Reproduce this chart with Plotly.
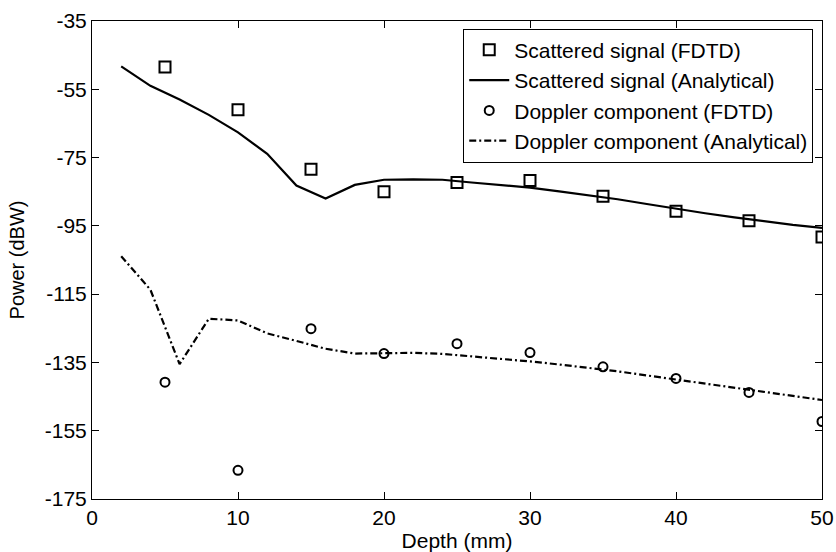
import plotly.graph_objects as go

# FDTD sample depths (mm)
depth_fdtd = [5, 10, 15, 20, 25, 30, 35, 40, 45, 50]
scattered_fdtd = [-48.5, -61.0, -78.4, -85.0, -82.3, -81.7, -86.3, -90.7, -93.5, -98.3]
doppler_fdtd = [-140.8, -166.6, -125.1, -132.4, -129.5, -132.1, -136.3, -139.7, -143.8, -152.3]

# Analytical curve depths (mm)
depth_analytic = [2, 4, 6, 8, 10, 12, 14, 16, 18, 20, 22, 24, 26, 28, 30,
                  32, 34, 36, 38, 40, 42, 44, 46, 48, 50]
scattered_analytic = [-48.3, -54.0, -58.0, -62.5, -67.6, -73.9, -83.2, -87.0, -83.0, -81.5,
                      -81.4, -81.5, -82.3, -83.0, -83.8, -84.9, -86.0, -87.2, -88.6, -90.0,
                      -91.3, -92.5, -93.7, -94.7, -95.6]
doppler_analytic = [-103.9, -113.7, -135.5, -122.2, -122.7, -126.5, -128.7, -131.0, -132.4, -132.2,
                    -132.2, -132.5, -133.2, -133.9, -134.7, -135.6, -136.5, -137.6, -138.8, -140.0,
                    -141.3, -142.6, -143.8, -144.9, -146.0]

x_ticks = [0, 10, 20, 30, 40, 50]
y_ticks = [-35, -55, -75, -95, -115, -135, -155, -175]

FONT = "Liberation Sans, Arial, sans-serif"

fig = go.Figure()
fig.add_trace(go.Scatter(
    x=depth_fdtd, y=scattered_fdtd, mode="markers",
    name="Scattered signal (FDTD)",
    marker=dict(symbol="square-open", size=11, color="black", line=dict(width=2, color="black")),
))
fig.add_trace(go.Scatter(
    x=depth_analytic, y=scattered_analytic, mode="lines",
    name="Scattered signal (Analytical)",
    line=dict(color="black", width=2.2),
))
fig.add_trace(go.Scatter(
    x=depth_fdtd, y=doppler_fdtd, mode="markers",
    name="Doppler component (FDTD)",
    marker=dict(symbol="circle-open", size=9, color="black", line=dict(width=2, color="black")),
))
fig.add_trace(go.Scatter(
    x=depth_analytic, y=doppler_analytic, mode="lines",
    name="Doppler component (Analytical)",
    line=dict(color="black", width=2.2, dash="7px,3px,2px,3px"),
))

axis_common = dict(
    showline=True, linecolor="black", linewidth=1, mirror="ticks",
    ticks="inside", ticklen=7, tickcolor="black", tickwidth=1,
    showgrid=False, zeroline=False, automargin=False,
    tickfont=dict(family=FONT, size=21, color="black"),
)

fig.update_layout(
    width=836, height=552,
    margin=dict(l=92, r=14, t=21, b=53),
    paper_bgcolor="white", plot_bgcolor="white",
    font=dict(family=FONT, size=21, color="black"),
    showlegend=True,
    legend=dict(
        x=0.988, y=0.984, xanchor="right", yanchor="top",
        bgcolor="white", bordercolor="black", borderwidth=1,
        font=dict(family=FONT, size=21, color="black"),
        tracegroupgap=0, itemwidth=40,
    ),
    xaxis=dict(
        range=[0, 50], tickvals=x_ticks, ticktext=[str(v) for v in x_ticks],
        title=dict(text="Depth (mm)", font=dict(family=FONT, size=21), standoff=12),
        **axis_common,
    ),
    yaxis=dict(
        range=[-175, -35], tickvals=y_ticks, ticktext=[str(v) for v in y_ticks],
        title=dict(text="Power (dBW)", font=dict(family=FONT, size=20), standoff=14),
        **axis_common,
    ),
)

fig.write_html("out.html")
